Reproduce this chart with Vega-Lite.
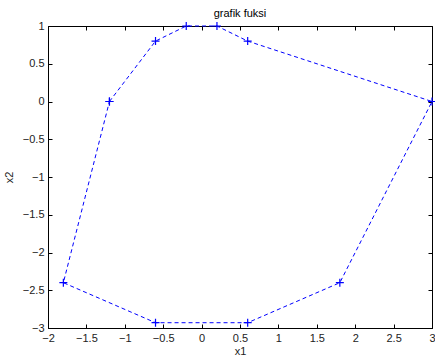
{
  "$schema": "https://vega.github.io/schema/vega-lite/v6.json",
  "autosize": "none",
  "width": 384,
  "height": 302,
  "padding": {"left": 48, "top": 26, "right": 3, "bottom": 30},
  "background": "white",
  "title": {"text": "grafik fuksi", "font": "Liberation Sans", "fontSize": 11, "fontWeight": "normal", "color": "black", "offset": 1},
  "config": {
    "view": {"stroke": "black", "strokeWidth": 1},
    "axis": {
      "grid": false, "domainColor": "black", "tickColor": "black", "tickSize": -4,
      "labelFont": "Liberation Sans", "labelFontSize": 11, "labelColor": "#222", "format": "~g",
      "titleFont": "Liberation Sans", "titleFontSize": 11, "titleFontWeight": "normal", "titleColor": "#222"
    }
  },
  "data": {"values": [
    {"i": 0, "x1": -1.2, "x2": 0},
    {"i": 1, "x1": -0.6, "x2": 0.8},
    {"i": 2, "x1": -0.2, "x2": 1},
    {"i": 3, "x1": 0.2, "x2": 1},
    {"i": 4, "x1": 0.6, "x2": 0.8},
    {"i": 5, "x1": 3, "x2": 0},
    {"i": 6, "x1": 1.8, "x2": -2.4},
    {"i": 7, "x1": 0.6, "x2": -2.93},
    {"i": 8, "x1": -0.6, "x2": -2.93},
    {"i": 9, "x1": -1.8, "x2": -2.4},
    {"i": 10, "x1": -1.2, "x2": 0}
  ]},
  "layer": [
    {
      "mark": {"type": "line", "color": "#0000ff", "strokeWidth": 1, "strokeDash": [4, 3], "clip": false},
      "encoding": {
        "x": {"field": "x1", "type": "quantitative", "scale": {"domain": [-2, 3], "nice": false, "zero": false},
              "axis": {"title": "x1", "values": [-2,-1.5,-1,-0.5,0,0.5,1,1.5,2,2.5,3], "labelPadding": 8, "titlePadding": 2, "labelFlush": false}},
        "y": {"field": "x2", "type": "quantitative", "scale": {"domain": [-3, 1], "nice": false, "zero": false},
              "axis": {"title": "x2", "values": [-3,-2.5,-2,-1.5,-1,-0.5,0,0.5,1], "labelPadding": 8, "titlePadding": 8, "labelFlush": false}},
        "order": {"field": "i", "type": "quantitative"}
      }
    },
    {
      "mark": {"type": "point", "shape": "M-1,0L1,0M0,-1L0,1", "filled": false, "stroke": "#0000ff", "color": "#0000ff", "strokeWidth": 1.2, "size": 64, "opacity": 1, "strokeOpacity": 1, "clip": false},
      "encoding": {
        "x": {"field": "x1", "type": "quantitative", "axis": {"orient": "top", "labels": false, "title": null, "domain": false, "values": [-2,-1.5,-1,-0.5,0,0.5,1,1.5,2,2.5,3]}},
        "y": {"field": "x2", "type": "quantitative", "axis": {"orient": "right", "labels": false, "title": null, "domain": false, "values": [-3,-2.5,-2,-1.5,-1,-0.5,0,0.5,1]}}
      }
    }
  ],
  "resolve": {"axis": {"x": "independent", "y": "independent"}}
}
